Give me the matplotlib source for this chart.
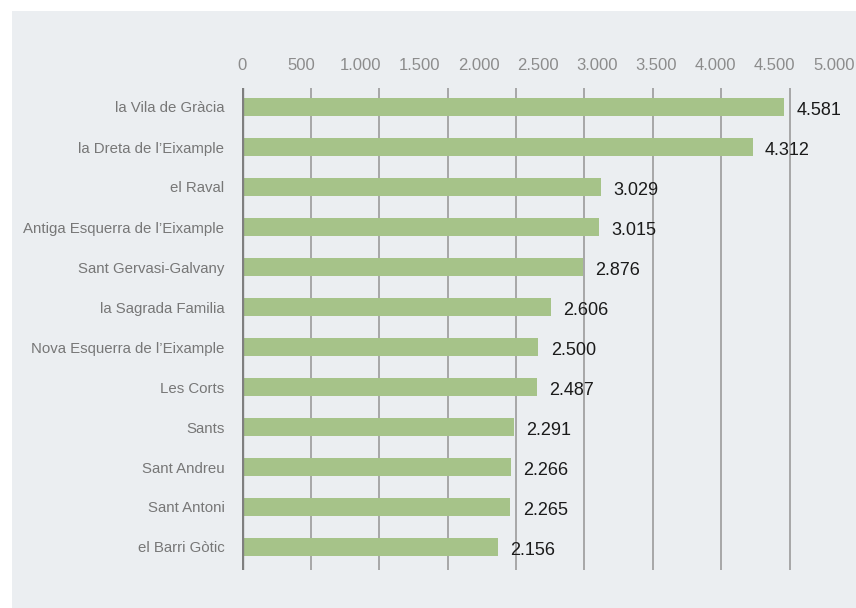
import matplotlib
matplotlib.use("Agg")
from matplotlib import pyplot as plt
from matplotlib.patches import Rectangle

# Values (thousands separator is a dot)
barrios = [
    "la Vila de Gràcia",
    "la Dreta de l’Eixample",
    "el Raval",
    "Antiga Esquerra de l’Eixample",
    "Sant Gervasi-Galvany",
    "la Sagrada Familia",
    "Nova Esquerra de l’Eixample",
    "Les Corts",
    "Sants",
    "Sant Andreu",
    "Sant Antoni",
    "el Barri Gòtic",
]
valores = [4581, 4312, 3029, 3015, 2876, 2606, 2500, 2487, 2291, 2266, 2265, 2156]

tick_values = [0, 500, 1000, 1500, 2000, 2500, 3000, 3500, 4000, 4500, 5000]
tick_labels = ["0", "500", "1.000", "1.500", "2.000", "2.500", "3.000",
               "3.500", "4.000", "4.500", "5.000"]

# the vertical rules in the original are not aligned with the labels
grid_step = 578
n_grid = 8

bar_color = "#a6c389"
panel_color = "#ebeef1"

fig = plt.figure(figsize=(8.56, 6.08), dpi=100)
fig.patch.set_facecolor("white")

# light grey panel behind the chart
fig.patches.append(Rectangle((12 / 856, 0), 1 - 12 / 856, 1 - 11 / 608,
                             transform=fig.transFigure, facecolor=panel_color,
                             edgecolor="none", zorder=-10))

ax = fig.add_axes([242.5 / 856, 38 / 608, 591.5 / 856, 482 / 608])
ax.patch.set_alpha(0)

pos = list(range(len(barrios)))
ax.barh(pos, valores, height=0.43, color=bar_color, zorder=2)

ax.set_xlim(0, 5000)
ax.set_ylim(len(barrios) - 1 + 0.575, -0.475)

# vertical rules
for k in range(1, n_grid + 1):
    ax.axvline(k * grid_step, color="#9b9b9b", lw=1.2, zorder=1)
ax.axvline(0, color="#7f7f7f", lw=2.4, zorder=3)

for s in ax.spines.values():
    s.set_visible(False)

ax.xaxis.tick_top()
ax.set_xticks(tick_values)
ax.set_xticklabels(tick_labels, fontsize=12, color="#8c8c8c",
                   family=["Liberation Sans", "DejaVu Sans"])
ax.tick_params(axis="x", length=0, pad=11)

ax.set_yticks(pos)
ax.set_yticklabels(barrios, fontsize=10.8, color="#777777",
                   family=["Liberation Sans", "DejaVu Sans"])
ax.tick_params(axis="y", length=0, pad=13)

for p, v in zip(pos, valores):
    txt = f"{v:,}".replace(",", ".")
    ax.annotate(txt, (v, p), xytext=(9, -2.5), textcoords="offset points",
                ha="left", va="center", fontsize=13, color="#1a1a1a",
                family=["Liberation Sans", "DejaVu Sans"], zorder=4)

fig.savefig("out.png", dpi=100)
